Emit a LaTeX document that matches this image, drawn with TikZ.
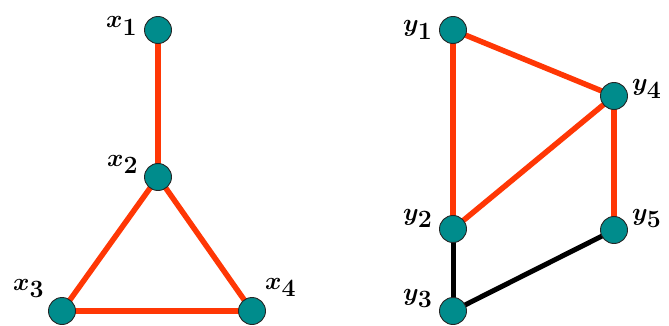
\documentclass[tikz,border=0pt]{standalone}
\usepackage{amsmath}
\usepackage{bm}
\DeclareMathSizes{32}{32}{25}{20}
\definecolor{edgered}{RGB}{255,55,5}
\definecolor{nodeteal}{RGB}{0,140,140}
\tikzset{
  vtx/.style={circle,fill=nodeteal,draw=black!85,line width=0.9pt,minimum size=27pt,inner sep=0pt},
  redge/.style={draw=edgered,line width=5.5pt},
  bedge/.style={draw=black,line width=5pt},
  lbl/.style={anchor=base west,inner sep=0pt,font=\fontsize{32}{34}\selectfont}
}
\begin{document}
\begin{tikzpicture}[x=1pt,y=-1pt]
\useasboundingbox (0,0) rectangle (669,326);
% left graph
\coordinate (cx1) at (158,30);
\coordinate (cx2) at (158,177);
\coordinate (cx3) at (62,311);
\coordinate (cx4) at (252,311);
% right graph
\coordinate (cy1) at (453,30);
\coordinate (cy4) at (614,96);
\coordinate (cy2) at (453,229);
\coordinate (cy5) at (614,230);
\coordinate (cy3) at (453,311);
\draw[redge] (cx1) -- (cx2);
\draw[redge] (cx2) -- (cx3);
\draw[redge] (cx2) -- (cx4);
\draw[redge] (cx3) -- (cx4);
\draw[redge] (cy1) -- (cy2);
\draw[redge] (cy1) -- (cy4);
\draw[redge] (cy2) -- (cy4);
\draw[redge] (cy4) -- (cy5);
\draw[bedge] (cy2) -- (cy3);
\draw[bedge] (cy3) -- (cy5);
\node[vtx] (x1) at (cx1) {};
\node[vtx] (x2) at (cx2) {};
\node[vtx] (x3) at (cx3) {};
\node[vtx] (x4) at (cx4) {};
\node[vtx] (y1) at (cy1) {};
\node[vtx] (y2) at (cy2) {};
\node[vtx] (y3) at (cy3) {};
\node[vtx] (y4) at (cy4) {};
\node[vtx] (y5) at (cy5) {};
\node[lbl] (lx1) at (106,28) {$\bm{x}_{\mathbf{1}}$};
\node[lbl] (lx2) at (107,166) {$\bm{x}_{\mathbf{2}}$};
\node[lbl] (lx3) at (13,290) {$\bm{x}_{\mathbf{3}}$};
\node[lbl] (lx4) at (265,289) {$\bm{x}_{\mathbf{4}}$};
\node[lbl] (ly1) at (403,32) {$\bm{y}_{\mathbf{1}}$};
\node[lbl] (ly4) at (632,91) {$\bm{y}_{\mathbf{4}}$};
\node[lbl] (ly2) at (403,220) {$\bm{y}_{\mathbf{2}}$};
\node[lbl] (ly5) at (632,220) {$\bm{y}_{\mathbf{5}}$};
\node[lbl] (ly3) at (403,300) {$\bm{y}_{\mathbf{3}}$};
\end{tikzpicture}
\end{document}
